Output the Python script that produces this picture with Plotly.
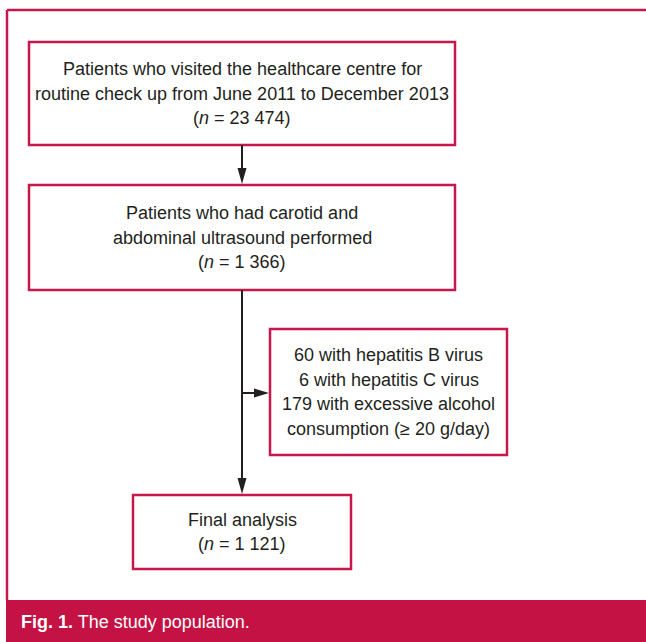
import plotly.graph_objects as go

# ---- Data (flowchart content) ----
box_lines = [
    ["Patients who visited the healthcare centre for",
     "routine check up from June 2011 to December 2013",
     "(<i>n</i> = 23 474)"],
    ["Patients who had carotid and",
     "abdominal ultrasound performed",
     "(<i>n</i> = 1 366)"],
    ["60 with hepatitis B virus",
     "6 with hepatitis C virus",
     "179 with excessive alcohol",
     "consumption (\u2265 20 g/day)"],
    ["Final analysis",
     "(<i>n</i> = 1 121)"],
]
caption_bold = "Fig. 1."
caption_text = "The study population."

# ---- Layout geometry (pixels) ----
W, H = 646, 642
RED = "#C8174A"
TXT = "#231F20"
FONT = "Liberation Sans Narrow, Arial Narrow, Liberation Sans, Arial, sans-serif"
LINE_GAP = 24.5

boxes = [
    (29, 42, 455, 145),
    (29, 185, 455, 290),
    (270, 329, 507, 455),
    (133, 495, 351, 569),
]

fig = go.Figure()
fig.add_trace(go.Scatter(x=[0, W], y=[0, H], mode="markers",
                         marker=dict(opacity=0), hoverinfo="skip", showlegend=False))

shapes = []
# outer frame
shapes.append(dict(type="line", x0=7, y0=10, x1=W + 5, y1=10, line=dict(color=RED, width=2.5)))
shapes.append(dict(type="line", x0=7, y0=10, x1=7, y1=600, line=dict(color=RED, width=2.5)))
# caption band
shapes.append(dict(type="rect", x0=6, y0=600, x1=W + 5, y1=H + 5, fillcolor="#C41244",
                   line=dict(width=0), layer="below"))
# boxes
for (x0, y0, x1, y1) in boxes:
    shapes.append(dict(type="rect", x0=x0, y0=y0, x1=x1, y1=y1,
                       line=dict(color=RED, width=2.5), fillcolor="white"))

AX = 242
# arrow 1 (box1 -> box2)
shapes.append(dict(type="line", x0=AX, y0=145, x1=AX, y1=170, line=dict(color=TXT, width=2)))
shapes.append(dict(type="path", path=f"M {AX-4.5},168 L {AX+4.5},168 L {AX},184 Z",
                   fillcolor=TXT, line=dict(width=0)))
# arrow 2 (box2 -> final)
shapes.append(dict(type="line", x0=AX, y0=290, x1=AX, y1=480, line=dict(color=TXT, width=2)))
shapes.append(dict(type="path", path=f"M {AX-4.5},478 L {AX+4.5},478 L {AX},494 Z",
                   fillcolor=TXT, line=dict(width=0)))
# branch arrow to exclusion box
shapes.append(dict(type="line", x0=AX, y0=393, x1=256, y1=393, line=dict(color=TXT, width=2)))
shapes.append(dict(type="path", path="M 254,388.5 L 254,397.5 L 269,393 Z",
                   fillcolor=TXT, line=dict(width=0)))

annotations = []
for (x0, y0, x1, y1), lines in zip(boxes, box_lines):
    cx, cy = (x0 + x1) / 2, (y0 + y1) / 2
    n = len(lines)
    for i, t in enumerate(lines):
        annotations.append(dict(x=cx, y=cy + (i - (n - 1) / 2) * LINE_GAP, text=t,
                                showarrow=False, xanchor="center", yanchor="middle",
                                font=dict(family=FONT, size=18, color=TXT)))
annotations.append(dict(x=19, y=622, text=f"<b>{caption_bold}</b> {caption_text}",
                        showarrow=False, xanchor="left", yanchor="middle",
                        font=dict(family=FONT, size=18, color="white")))

fig.update_layout(
    width=W, height=H, margin=dict(l=0, r=0, t=0, b=0),
    paper_bgcolor="white", plot_bgcolor="white",
    xaxis=dict(range=[0, W], visible=False, fixedrange=True),
    yaxis=dict(range=[H, 0], visible=False, fixedrange=True),
    shapes=shapes, annotations=annotations, showlegend=False,
)
fig.write_html("out.html", config={"displayModeBar": False},
               post_script="document.body.style.margin='0';document.body.style.overflow='hidden';")
